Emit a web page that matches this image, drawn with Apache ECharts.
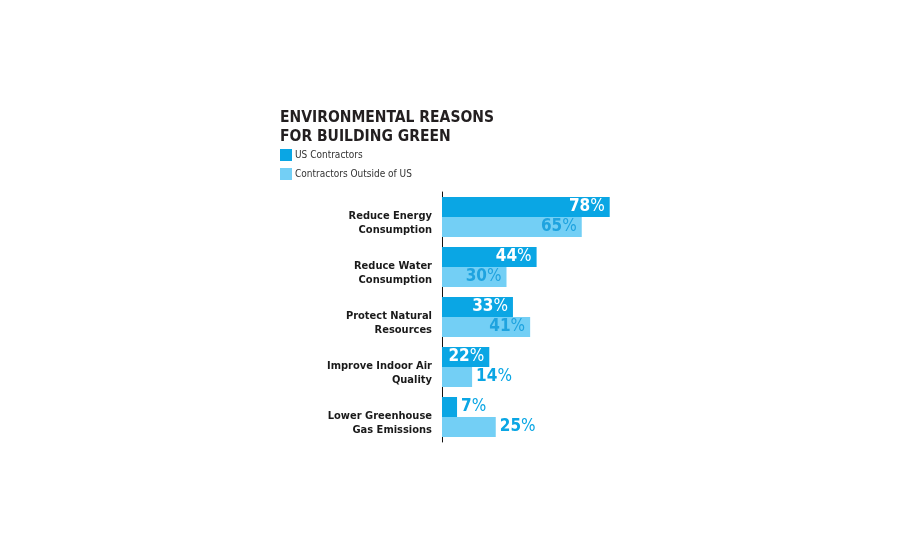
<!DOCTYPE html>
<html>
<head>
<meta charset="utf-8">
<script src="https://cdn.jsdelivr.net/npm/echarts@6/dist/echarts.min.js"></script>
<style>
  html, body { margin: 0; padding: 0; background: #fff; }
  #chart { width: 900px; height: 550px; }
</style>
</head>
<body>
<div id="chart"></div>
<script>
var categories = [
    "Reduce Energy\nConsumption",
    "Reduce Water\nConsumption",
    "Protect Natural\nResources",
    "Improve Indoor Air\nQuality",
    "Lower Greenhouse\nGas Emissions"
];
var usValues = [78, 44, 33, 22, 7];
var outsideValues = [65, 30, 41, 14, 25];

var FONT = "'DejaVu Sans Condensed', 'Liberation Sans Narrow', sans-serif";
var DARK = "#0aa6e4";
var LIGHT = "#73cff5";

// big enough bars get the label inside, small ones outside
function makeData(values, limit, insideColor) {
    return values.map(function (v) {
        var inside = v >= limit;
        return {
            value: v,
            label: {
                position: inside ? "insideRight" : "right",
                distance: inside ? 5 : 4,
                color: inside ? insideColor : DARK
            }
        };
    });
}

var labelRich = {
    n: { fontFamily: FONT, fontWeight: "bold", fontSize: 17 },
    p: { fontFamily: FONT, fontWeight: "normal", fontSize: 17 }
};

var myChart = echarts.init(document.getElementById("chart"));
var option = {
    animation: false,
    title: {
        text: "ENVIRONMENTAL REASONS\nFOR BUILDING GREEN",
        left: 280,
        top: 108,
        padding: 0,
        textStyle: {
            fontFamily: FONT,
            fontWeight: "bold",
            fontSize: 15.5,
            lineHeight: 19,
            color: "#231f20"
        }
    },
    legend: {
        data: ["US Contractors", "Contractors Outside of US"],
        orient: "vertical",
        left: 280,
        top: 149,
        padding: 0,
        itemWidth: 12,
        itemHeight: 12,
        itemGap: 7,
        icon: "rect",
        selectedMode: false,
        textStyle: { fontFamily: FONT, fontSize: 10, color: "#333", padding: [0, 0, 0, -2] }
    },
    grid: { left: 442, top: 192, width: 215, height: 250, containLabel: false },
    xAxis: {
        type: "value",
        min: 0,
        max: 100,
        show: false
    },
    yAxis: {
        type: "category",
        data: categories,
        inverse: true,
        axisLine: { show: true, lineStyle: { color: "#111", width: 1 } },
        axisTick: { show: false },
        axisLabel: {
            fontFamily: FONT,
            fontWeight: "bold",
            fontSize: 11,
            lineHeight: 14,
            color: "#1a1a1a",
            margin: 10,
            align: "right",
            // empty first line pushes the text a bit below the bar centre
            formatter: function (v) { return "{s|}\n" + v; },
            rich: { s: { lineHeight: 12 } }
        }
    },
    series: [
        {
            name: "US Contractors",
            type: "bar",
            data: makeData(usValues, 20, "#fff"),
            barWidth: 20,
            barGap: "0%",
            itemStyle: { color: DARK },
            label: {
                show: true,
                formatter: function (p) { return "{n|" + p.value + "}{p|%}"; },
                rich: labelRich
            }
        },
        {
            name: "Contractors Outside of US",
            type: "bar",
            data: makeData(outsideValues, 28, "#1fa3df"),
            barWidth: 20,
            barGap: "0%",
            itemStyle: { color: LIGHT },
            label: {
                show: true,
                formatter: function (p) { return "{n|" + p.value + "}{p|%}"; },
                rich: labelRich
            }
        }
    ]
};
myChart.setOption(option);
</script>
</body>
</html>
